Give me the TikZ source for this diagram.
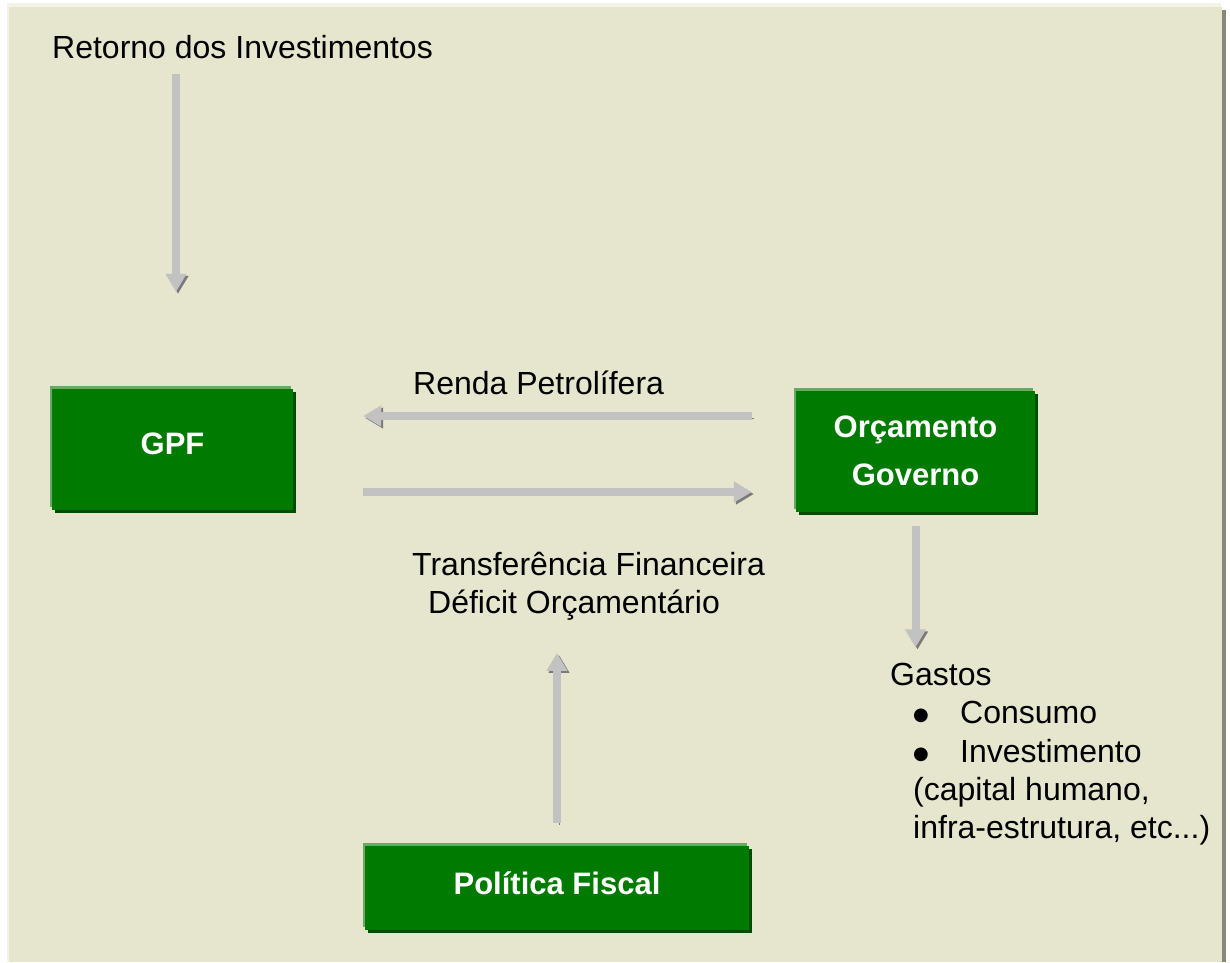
\documentclass[tikz,border=0pt]{standalone}
\usepackage{fontspec}
\setmainfont{Liberation Sans}
\newfontfamily\symbolfont{DejaVu Sans}
\usepackage{tikz}
\usetikzlibrary{arrows.meta,positioning,shadows}

\definecolor{panelbg}{RGB}{230,229,205}
\definecolor{panellight}{RGB}{243,243,232}
\definecolor{panelshade}{RGB}{136,136,120}
\definecolor{boxgreen}{RGB}{0,122,0}
\definecolor{boxlight}{RGB}{102,170,102}
\definecolor{boxshade}{RGB}{0,76,0}
\definecolor{arrowgrey}{RGB}{194,194,194}
\definecolor{arrowshade}{RGB}{122,122,122}

\newcommand{\txtfont}{\fontsize{32}{38.3}\selectfont}
\newcommand{\boxfont}{\fontsize{31}{48}\selectfont\bfseries}
\newcommand{\gastobullet}{\makebox[47pt][l]{\raisebox{3pt}{\symbolfont\fontsize{18}{0}\selectfont ●}}}

\begin{document}
\begin{tikzpicture}[x=1pt, y=-1pt,
  every node/.style={inner sep=0pt, font=\txtfont},
  greenbox/.style={fill=boxgreen, text=white, font=\boxfont, align=center,
    minimum width=241pt, minimum height=121pt,
    general shadow={fill=boxlight, shadow xshift=-2pt, shadow yshift=3pt},
    general shadow={fill=boxshade, shadow xshift=3pt, shadow yshift=-3pt}},
  flowarrow/.style={line width=8pt, draw=arrowgrey, -{Triangle[length=18pt,width=20pt]},
    preaction={draw=arrowshade, transform canvas={shift={(2pt,-2pt)}}}}]
  \useasboundingbox (0,0) rectangle (1230,962);
  % panel behind everything
  \fill[white] (0,0) rectangle (1230,962);
  \fill[panelshade] (11,10) rectangle (1226,962);
  \fill[panellight] (7,3) rectangle (1221,962);
  \fill[panelbg] (9,7) rectangle (1222,962);

  % boxes
  \node[greenbox, text height=22pt, text depth=13pt] (gpf) at (172.5,449.5) {GPF};
  \node[greenbox, minimum width=239pt] (orc) at (915.5,451) {Orçamento\\Governo};
  \node[greenbox, minimum width=384pt, minimum height=84pt,
    text height=22pt, text depth=10pt] (pol) at (557,888) {Política Fiscal};

  % labels
  \node[anchor=base west] (retorno) at (52,58) {Retorno dos Investimentos};
  \node[anchor=base west] (renda) at (413,394) {Renda Petrolífera};
  \node[anchor=base west] (transf) at (412,575) {Transferência Financeira};
  \node[anchor=base west] (deficit) at (428,613) {Déficit Orçamentário};

  % spending list
  \node[anchor=base west] (gastos) at (890,685) {Gastos};
  \foreach \y/\t/\n in {723/Consumo/consumo, 762/Investimento/invest} {
    \node[anchor=base west] (\n) at (913,\y) {\gastobullet\t};
  }
  \node[anchor=base west] (humano) at (913,800) {(capital humano,};
  \node[anchor=base west] (infra) at (913,838) {infra-estrutura, etc...)};

  % arrows
  \draw[flowarrow, shorten <=15pt, shorten >=97pt]
    ([xshift=3.5pt]gpf.north |- retorno.south) -- ([xshift=3.5pt]gpf.north);
  \draw[flowarrow, shorten <=44pt, shorten >=70pt]
    ([yshift=35pt]orc.west) -- ([yshift=33.5pt]gpf.east);
  \draw[flowarrow, shorten <=70pt, shorten >=44pt]
    ([yshift=-42.5pt]gpf.east) -- ([yshift=-41pt]orc.west);
  \draw[flowarrow, shorten <=14pt, shorten >=15pt] (orc.south) -- (orc.south |- gastos.north);
  \draw[flowarrow, shorten <=23pt, shorten >=33pt] (pol.north) -- (pol.north |- deficit.south);
\end{tikzpicture}
\end{document}
